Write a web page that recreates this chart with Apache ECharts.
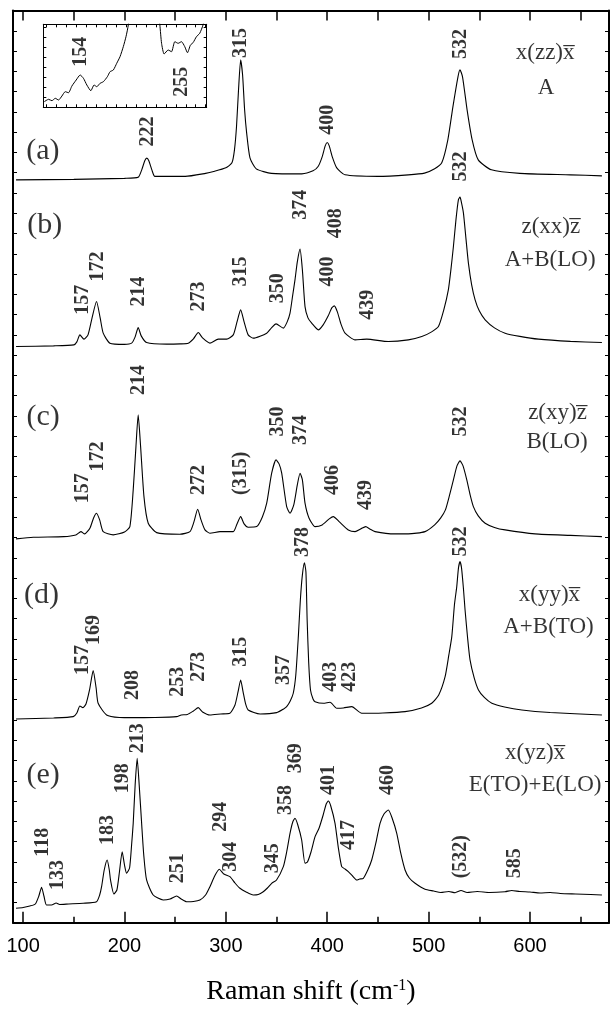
<!DOCTYPE html>
<html><head><meta charset="utf-8">
<script src="https://cdn.jsdelivr.net/npm/echarts@6/dist/echarts.min.js"></script>
<style>html,body{margin:0;padding:0;background:#fff}#c{width:610px;height:1013px}</style>
</head><body><div id="c"></div>
<script>
// ---- x axis ticks (Raman shift, cm-1) ----
const xMajorTicks = [100, 200, 300, 400, 500, 600];
const xMinorTicks = [150, 250, 350, 450, 550, 650];
const xTopTicks = [100, 150, 200, 250, 300, 350, 400, 450, 500, 550, 600, 650];
const insetTicks = [120, 130, 140, 150, 160, 170, 180, 190, 200, 210, 220, 230, 240, 250, 260, 270, 280];

// ---- spectra: [Raman shift, intensity (a.u., stacked)] ----
const traceA = [[93,742.7],[150,743.2],[200,744.2],[213.5,745.2],[217,752.7],[220,761.7],[222,764.4],[224,761.7],[227,752.7],[230,746.2],[260,746.2],[280,749.2],[288,751],[300,754.7],[306,759.7],[308.5,772.7],[310.5,795.7],[312.5,832.7],[314.6,862.7],[316.5,847.7],[318.5,812.7],[320.5,789.7],[323.8,764.7],[330,753.7],[345,749.2],[375,748.7],[386,751.7],[391,756],[395,765.7],[398,776.7],[400,780],[402,776.7],[405,765.7],[409.4,754.7],[417.6,747.7],[450,746.2],[480,747.7],[496,749.4],[506,753.7],[513,759.7],[519,782.7],[524,815.7],[529,845.7],[531,852.7],[533.5,845.7],[538,812.7],[543,782.7],[549,762.7],[562,752.7],[590,749.2],[640,747.7],[671,746.7]];
const traceB = [[93,576],[130,576.7],[150,577.7],[153,580.7],[156,587.7],[160,583.4],[164,587.7],[168,604.7],[172.4,621],[176,604.7],[179,589.4],[185.6,579.4],[200,578.2],[207,579.4],[210.5,585.7],[213.5,595],[216.5,586.7],[221.8,580],[241.6,578.4],[255,578.7],[262.9,579.4],[268,583.7],[272.8,590],[277,584.7],[284.3,579.4],[292.5,583.4],[300.8,583.4],[307.3,587.7],[311,600.7],[314.6,612.7],[318,600.7],[322,587.7],[327,584.4],[340.3,589.4],[345,594.7],[349.5,598.7],[356.7,594.4],[360.5,600.7],[363.3,609.4],[366,627.7],[368.2,642.7],[370.5,660.7],[373.2,673.4],[375.5,652.7],[378.1,616],[381,604.7],[384.7,599.4],[391.2,592.7],[396,597.7],[401,606.7],[404.5,614.7],[407,616.7],[410,610.7],[413.5,598.7],[417.6,589.4],[427.5,582.7],[439,583.4],[460.3,581],[480,582.7],[493.3,586],[503,590.7],[509.7,596],[515,612.7],[519.5,632.7],[522,652.7],[524.5,676],[527,702.7],[529.4,722.7],[531,725.4],[532.5,719.7],[534.4,709.4],[537,682.7],[539.3,659.4],[542.5,637.7],[545.9,622.7],[550,611.7],[555.8,602.7],[565,594.7],[575.5,589.4],[590,586.2],[608.4,583.4],[640,581.2],[671,580]];
const traceC = [[93,383.7],[110,385.4],[140,386],[152,387.7],[157,391],[160.7,388.7],[166,394.7],[169.5,404.7],[172.4,409.4],[175.5,402.7],[179,391],[188.8,387.7],[200,390.7],[205.3,396],[208.6,432.7],[211.3,476],[213.5,507.7],[215.9,476],[219.2,426],[223.4,399.4],[231.7,390],[254.7,388.4],[264.6,391],[268.5,400.7],[272.2,413.4],[275.5,402.7],[279.4,392.7],[284.3,389.4],[294.2,391],[307.3,391],[311,398.7],[314.6,406],[318,398.7],[322,395.4],[330.4,396],[336,405.7],[340.3,419.4],[345.2,449.4],[349.5,462.7],[352.5,458.7],[355.1,449.4],[360,416],[363.3,409.4],[367,417.7],[370.5,437.7],[373.2,449.4],[375.5,442.7],[378.1,419.4],[382,404.7],[388,396],[395,397.7],[402,403.7],[406,406],[412,400.7],[420.8,392.7],[427.5,391],[433,393.7],[438,396],[442,393.7],[447.2,391],[466.9,388.7],[480,388.7],[496.5,391],[506,397.7],[512,404.7],[516.6,412.7],[520.5,426.7],[524.5,442.7],[528,456.7],[531,461.7],[534,456.7],[537.7,442.7],[541,427.7],[544.2,416],[549,406.7],[555.8,399.4],[565,395.2],[575.5,392.7],[605.1,388.7],[640,387.2],[671,386]];
const traceD = [[93,203.7],[130,204.7],[149.4,206],[153,209.7],[156,216.7],[159,215],[162,218.7],[165.5,232.7],[169.1,252],[172,234.7],[174,219.4],[182.3,207.7],[195,205.2],[208.6,205],[230,205.2],[251.4,206],[256,207.7],[262,208.2],[268,211.7],[272.8,215],[277,210.7],[284.3,207.7],[295,208.7],[304,209.4],[309,217.7],[312,230.7],[314.6,242.7],[317,230.7],[319.5,218.7],[322,212.7],[333.7,208.7],[350.1,210],[357,213.7],[360,216],[363.5,221.7],[366.5,229.4],[369,247.7],[371.5,286],[373.5,322.7],[375.5,347.7],[377.5,359.7],[379,350.7],[380.2,302.7],[381.7,260.7],[383.5,232.7],[386,223.7],[388,221],[396.2,219.4],[402.8,220.4],[409.4,214.4],[416,214.7],[424.2,216],[434,209.4],[455,209.7],[476.8,211],[493,214.7],[503.1,219.4],[510,227.7],[516.3,246],[520,267.7],[522.9,286],[525.5,317.7],[527.8,336],[529.5,354.7],[531,361],[532.5,354.7],[534.5,332.7],[536,312.7],[538.5,284.7],[540.9,262.7],[545,244.7],[549.2,232.7],[555,225.2],[562.4,219.4],[575,215.7],[592,212.7],[620,210.2],[671,207.7]];
const traceE = [[93,14.4],[100,15.2],[106.6,16.7],[112,18.7],[115.5,26.7],[118.2,35.4],[120.5,26.7],[123,17.7],[128,17.7],[132.6,19.7],[136,18.2],[145,18.7],[159.2,19.4],[172.4,21],[175.5,27.7],[177.4,36],[180,52.7],[182.9,62.7],[185,52.7],[186.2,42.7],[189.5,28.7],[192.5,32.7],[195,50.7],[197.7,71],[200,57.7],[202.1,49.4],[205,54.7],[207,77.7],[208.6,99.4],[210.5,137.7],[212.5,164.4],[214.5,137.7],[216.9,99.4],[219,67.7],[221.8,42.7],[228.3,27.7],[238.2,22.7],[245,23.7],[251.4,26.7],[256,23.7],[261.3,21],[268,21.2],[274.4,22.7],[280,27.7],[284.3,36],[289,46.7],[293.5,53.4],[298,48.7],[304,46],[309,39.7],[313.9,34.4],[320,30.7],[327,27.7],[332,28.2],[336.9,31],[341,34.7],[345.2,39.4],[350,42.7],[356.7,56],[360,70.7],[363.3,89.4],[366,100.7],[368.2,104.4],[371,97.7],[374.8,82.7],[378.1,59.4],[380.5,60.7],[384,70.7],[388,86],[392,94.7],[396,107.7],[399,118.7],[401.1,121.7],[403.5,116.7],[407.7,99.4],[411,74.7],[414.3,56],[417.5,53.7],[420.8,51],[425,46.7],[429.1,42.7],[432,43.7],[435.6,44.4],[440,52.7],[443.9,62.7],[448,79.7],[452.1,99.4],[456,108.7],[460.3,112.7],[464,104.7],[468.6,89.4],[472.5,69.7],[476.8,52.7],[481,44.7],[486.7,39.4],[496.5,33.4],[505,31.7],[512,30.2],[520,31.2],[526.2,30],[532,32.2],[538,30.2],[548,31.2],[560,30.2],[575.5,31],[582,32.2],[590,31.2],[600,30.7],[610,29.7],[620,30.2],[630,29.2],[645,28.7],[660,28.2],[671,27.7]];
// inset: spectrum (a) magnified
const traceInset = [[118,5.6],[122.3,8],[125.7,6.6],[129,9],[132.3,7.3],[135.7,11.3],[139,15.6],[142.3,14.6],[145.7,21.3],[150,27.3],[154,32.3],[157.3,29],[160.7,22.3],[164.7,16.6],[168,22.3],[170.7,20.6],[174,24],[177.3,25.6],[181.3,30.6],[184,35.6],[187.3,37.3],[190.7,44],[194,50.6],[197.3,60.6],[200,70.6],[202.3,82.3],[206,120],[222,400],[230,120],[234,82.3],[235.7,64],[238.3,53.3],[242.3,57.3],[245.7,55.6],[249,65.6],[252.3,64],[255.7,65.6],[259,60.6],[261.7,54.6],[264.7,62.3],[267.3,64.6],[270.7,70.6],[274,74],[277.3,82.3],[280,95]];

// ---- peak labels: [text, Raman shift, intensity] ----
const labelsA = [['222',222.6,776],['315',314.7,864.4],['400',401,787.7],['532',531.9,863.4]];
const labelsB = [['157',158.4,607.7],['172',173.2,641],['214',214.4,616],['273',273.6,611],['315',314.7,636],['350',351,619.4],['374',374,702.7],['400',400.3,636],['408',408.5,684.4],['439',439.8,602.7],['532',531.9,741]];
const labelsC = [['157',158.4,419.4],['172',173.2,451],['214',214.4,527.7],['272',273.6,427.7],['(315)',314.7,427.7],['350',351,486],['374',374,477.7],['406',405.2,427.7],['439',438.1,412.7],['532',531.9,486]];
const labelsD = [['157',158.4,247.7],['169',170,277.7],['208',207.8,222.7],['253',252.2,226],['273',273.6,241],['315',314.7,256],['357',357.5,237.7],['378',376.4,365.7],['403',403.6,231],['423',422.5,231],['532',531.9,366]];
const labelsE = [['118',119,66],['133',133.8,32.7],['183',183.1,77.7],['198',197.9,129.4],['213',212.7,169.4],['251',252.2,39.4],['294',295,91],['304',304.9,51],['345',346,49.4],['358',359.1,107.7],['369',369,149.4],['401',402,127.7],['417',421.7,72.7],['460',459.5,127.7],['(532)',531.9,44.4],['585',584.6,44.4]];
const labelsInset = [['154',154.8,40.6],['255',256.5,10.6]];

// ---- panel names and scattering geometries ----
const panelNames = [['(a)',119.4,771.7],['(b)',121.4,697.7],['(c)',119.7,505.7],['(d)',118.2,327.7],['(e)',119.7,147.7]];
const geometries = [['x(zz)x\u0305',615,869.7],['A',616,834.7],['z(xx)z\u0305',620.6,696],['A+B(LO)',619.9,662.7],['z(xy)z\u0305',627.2,509.4],['B(LO)',626.8,481],['x(yy)x\u0305',619.2,327.7],['A+B(TO)',618.3,296],['x(yz)x\u0305',605.1,169.4],['E(TO)+E(LO)',605.1,137.7]];

const SERIF = "'Liberation Serif','Times New Roman',serif";
const SANS = "'Liberation Sans',Arial,sans-serif";

function lineSeries(data, xi, yi, extra) {
  return Object.assign({type:'line', xAxisIndex:xi, yAxisIndex:yi, data:data, showSymbol:false, symbol:'none',
    smooth:0.2, lineStyle:{color:'#000', width:1.1}, silent:true, animation:false}, extra||{});
}
function textSeries(arr, xi, yi, label) {
  return {type:'scatter', xAxisIndex:xi, yAxisIndex:yi, symbolSize:0, silent:true, animation:false, z:5,
    itemStyle:{color:'transparent'},
    data: arr.map(d => ({name:d[0], value:[d[1], d[2]]})),
    label: Object.assign({show:true, formatter:'{b}', position:'inside', color:'#000'}, label)};
}
const peakLabel = {rotate:90, align:'left', verticalAlign:'middle', fontFamily:SERIF, fontWeight:'bold', fontSize:20};

const chart = echarts.init(document.getElementById('c'));
chart.setOption({
  animation:false,
  backgroundColor:'#fff',
  grid:[{left:13, top:10.5, width:596, height:912.2}, {left:43.3, top:24.3, width:163.4, height:83}],
  xAxis:[
    {gridIndex:0, type:'value', min:90, max:678, position:'bottom',
     axisLine:{onZero:false, lineStyle:{color:'#000', width:2}},
     axisTick:{inside:true, length:11, customValues:xMajorTicks, lineStyle:{color:'#000', width:1.5}},
     axisLabel:{customValues:xMajorTicks, fontFamily:SANS, fontSize:20, color:'#000', margin:14},
     splitLine:{show:false},
     name:'Raman shift (cm{sup|-1})', nameLocation:'middle', nameGap:55,
     nameTextStyle:{fontFamily:SERIF, fontSize:28, color:'#000', rich:{sup:{fontFamily:SERIF, fontSize:16, verticalAlign:'top', color:'#000'}}}},
    {gridIndex:0, type:'value', min:90, max:678, position:'bottom',
     axisLine:{show:false, onZero:false}, axisTick:{inside:true, length:6, customValues:xMinorTicks, lineStyle:{color:'#000', width:1.5}},
     axisLabel:{show:false}, splitLine:{show:false}},
    {gridIndex:0, type:'value', min:90, max:678, position:'top',
     axisLine:{onZero:false, lineStyle:{color:'#000', width:2}}, axisTick:{inside:true, length:10, customValues:xTopTicks, lineStyle:{color:'#000', width:1.5}},
     axisLabel:{show:false}, splitLine:{show:false}},
    {gridIndex:1, type:'value', min:117, max:281, position:'bottom',
     axisLine:{onZero:false, lineStyle:{color:'#000', width:1}}, axisTick:{inside:true, length:3, customValues:insetTicks, lineStyle:{color:'#000'}},
     axisLabel:{show:false}, splitLine:{show:false}},
    {gridIndex:1, type:'value', min:117, max:281, position:'top',
     axisLine:{onZero:false, lineStyle:{color:'#000', width:1}}, axisTick:{inside:true, length:3, customValues:insetTicks, lineStyle:{color:'#000'}},
     axisLabel:{show:false}, splitLine:{show:false}}
  ],
  yAxis:[
    {gridIndex:0, type:'value', min:0, max:912, interval:20.2667, position:'left',
     axisLine:{show:true, onZero:false, lineStyle:{color:'#000', width:2}}, axisTick:{show:true, inside:true, length:4, lineStyle:{color:'#000'}},
     axisLabel:{show:false}, splitLine:{show:false}},
    {gridIndex:0, type:'value', min:0, max:912, interval:20.2667, position:'right',
     axisLine:{show:true, onZero:false, lineStyle:{color:'#000', width:2}}, axisTick:{show:true, inside:true, length:4, lineStyle:{color:'#000'}},
     axisLabel:{show:false}, splitLine:{show:false}},
    {gridIndex:1, type:'value', min:0, max:83, interval:10, position:'left',
     axisLine:{show:true, onZero:false, lineStyle:{color:'#000', width:1}}, axisTick:{show:true, inside:true, length:3, lineStyle:{color:'#000'}},
     axisLabel:{show:false}, splitLine:{show:false}},
    {gridIndex:1, type:'value', min:0, max:83, interval:10, position:'right',
     axisLine:{show:true, onZero:false, lineStyle:{color:'#000', width:1}}, axisTick:{show:true, inside:true, length:3, lineStyle:{color:'#000'}},
     axisLabel:{show:false}, splitLine:{show:false}}
  ],
  series:[
    lineSeries(traceA, 0, 0), lineSeries(traceB, 0, 0), lineSeries(traceC, 0, 0),
    lineSeries(traceD, 0, 0), lineSeries(traceE, 0, 0),
    lineSeries(traceInset, 3, 2, {clip:true, lineStyle:{color:'#000', width:1}}),
    textSeries(labelsA, 0, 0, peakLabel), textSeries(labelsB, 0, 0, peakLabel),
    textSeries(labelsC, 0, 0, peakLabel), textSeries(labelsD, 0, 0, peakLabel),
    textSeries(labelsE, 0, 0, peakLabel), textSeries(labelsInset, 3, 2, peakLabel),
    textSeries(panelNames, 0, 0, {align:'center', verticalAlign:'middle', fontFamily:SERIF, fontSize:30}),
    textSeries(geometries, 0, 0, {align:'center', verticalAlign:'middle', fontFamily:SERIF, fontSize:23})
  ]
});
</script></body></html>
